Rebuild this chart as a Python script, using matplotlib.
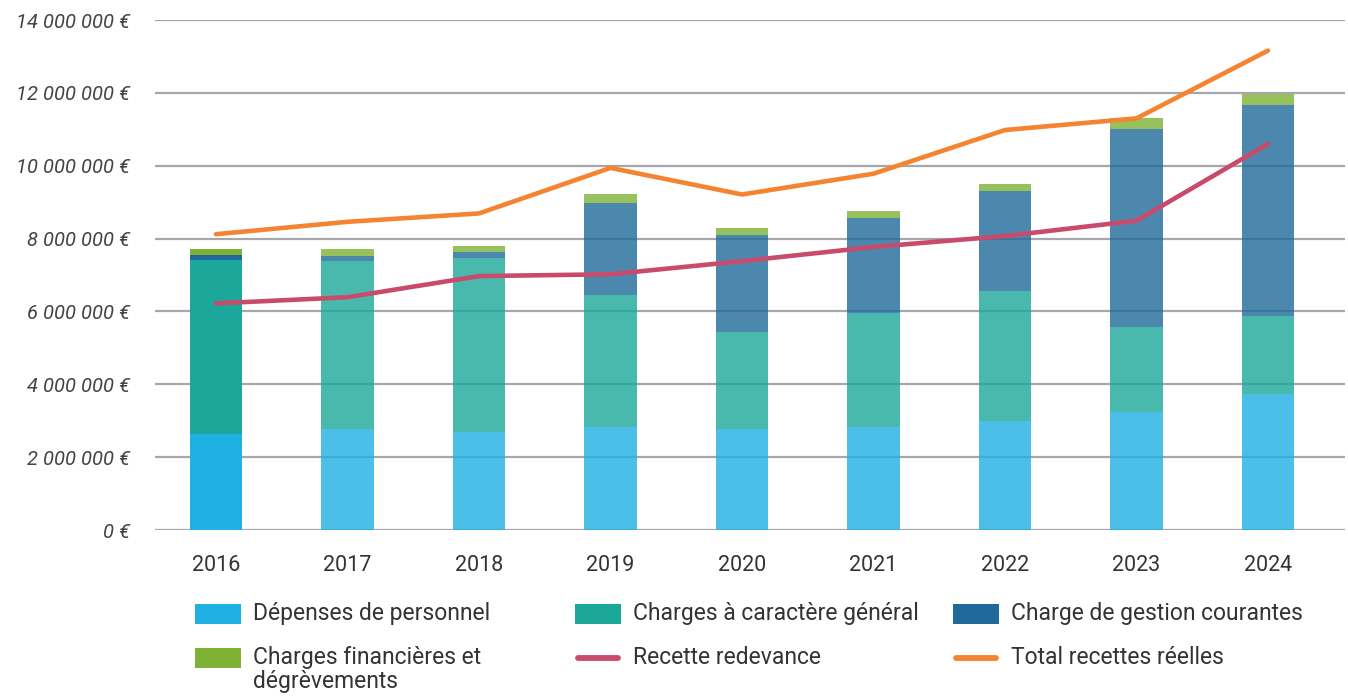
import matplotlib
matplotlib.use("Agg")
import matplotlib.pyplot as plt
import numpy as np
from matplotlib.patches import Rectangle
from matplotlib.lines import Line2D

plt.rcParams['font.family'] = ['Roboto', 'DejaVu Sans']

years = ["2016", "2017", "2018", "2019", "2020", "2021", "2022", "2023", "2024"]
personnel = [2.64, 2.77, 2.70, 2.83, 2.77, 2.82, 2.99, 3.25, 3.72]          # M€
charges_generales = [4.77, 4.61, 4.77, 3.61, 2.67, 3.15, 3.57, 2.31, 2.15]
gestion_courante = [0.14, 0.14, 0.16, 2.55, 2.66, 2.60, 2.75, 5.45, 5.81]
financieres = [0.16, 0.19, 0.17, 0.23, 0.19, 0.19, 0.19, 0.30, 0.29]
recette_redevance = [6.22, 6.39, 6.97, 7.02, 7.38, 7.77, 8.07, 8.49, 10.60]
total_recettes = [8.12, 8.46, 8.69, 9.94, 9.21, 9.78, 10.98, 11.30, 13.16]
yticks_m = [0, 2, 4, 6, 8, 10, 12, 14]

c_pers = "#1FB0E4"
c_gen = "#1BA89A"
c_gest = "#1F6A9A"
c_fin = "#7DB234"
c_red = "#C94B6B"
c_tot = "#F58432"
text_c = "#333333"

W, H = 1348, 697
fig = plt.figure(figsize=(W/100, H/100), dpi=100)
ax = fig.add_axes([155/W, 1-530/H, (1345-155)/W, (530-20)/H])

x = np.arange(len(years))
M = 1e6
pers = np.array(personnel) * M
gen = np.array(charges_generales) * M
gest = np.array(gestion_courante) * M
fin = np.array(financieres) * M
alphas = [1.0] + [0.8] * (len(years) - 1)
w = 0.40
for i in range(len(years)):
    a = alphas[i]
    b = 0
    for vals, col in [(pers, c_pers), (gen, c_gen), (gest, c_gest), (fin, c_fin)]:
        ax.bar(x[i], vals[i], w, bottom=b, color=col, alpha=a, zorder=2, linewidth=0)
        b += vals[i]

ax.plot(x, np.array(recette_redevance) * M, color=c_red, lw=3.3,
        solid_capstyle='round', solid_joinstyle='round', zorder=3)
ax.plot(x, np.array(total_recettes) * M, color=c_tot, lw=3.3,
        solid_capstyle='round', solid_joinstyle='round', zorder=3)

ax.set_xlim(-(216-155)/131.5, (1345-216)/131.5)
ax.set_ylim(0, 14 * M)
yt = np.array(yticks_m) * M
ax.set_yticks(yt)
ax.set_yticklabels([("{:,}".format(int(v)).replace(",", " ") + " €") for v in yt],
                   fontstyle='italic', fontsize=14.5, color="#444444")
ax.set_xticks(x)
ax.set_xticklabels(years, fontsize=15.5, color=text_c)
ax.tick_params(axis='y', length=0, pad=18)
ax.tick_params(axis='x', length=0, pad=18)
ax.grid(axis='y', color="#A6A6AC", lw=1.6, zorder=0)
ax.set_axisbelow(True)
for s in ax.spines.values():
    s.set_visible(False)

# Legend (drawn manually in pixel coordinates of the figure)
def fx(px):
    return px / W

def fy(py):
    return 1 - py / H

legend_items = [
    ("patch", c_pers, "Dépenses de personnel", 195, 614),
    ("patch", c_gen, "Charges à caractère général", 575, 614),
    ("patch", c_gest, "Charge de gestion courantes", 953, 614),
    ("patch", c_fin, "Charges financières et\ndégrèvements", 195, 658),
    ("line", c_red, "Recette redevance", 575, 658),
    ("line", c_tot, "Total recettes réelles", 953, 658),
]
for kind, col, lab, px, py in legend_items:
    if kind == "patch":
        fig.patches.append(Rectangle((fx(px), fy(py + 10)), 46/W, 20/H,
                                     transform=fig.transFigure, color=col, lw=0))
    else:
        fig.lines.append(Line2D([fx(px + 3), fx(px + 43)], [fy(py), fy(py)],
                                transform=fig.transFigure, color=col, lw=4.2,
                                solid_capstyle='round'))
    fig.text(fx(px + 58), fy(py - 12), lab, fontsize=16.5, color=text_c,
             ha='left', va='top', linespacing=1.05)

fig.savefig("out.png", dpi=100)
